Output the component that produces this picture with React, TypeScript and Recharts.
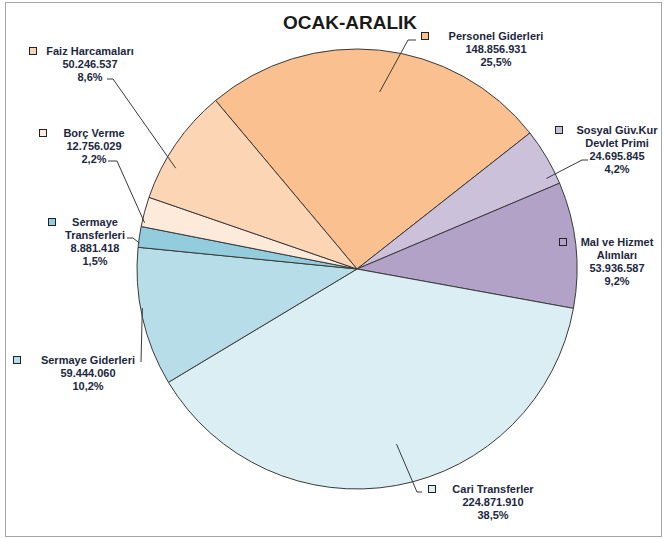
import React from "react";
import { PieChart, Pie, Cell, Sector } from "recharts";

// dilimler, saat yönünde (Personel Giderleri sol üstten başlıyor)
const categories = [
  "Personel Giderleri",
  "Sosyal Güv.Kur Devlet Primi",
  "Mal ve Hizmet Alımları",
  "Cari Transferler",
  "Sermaye Giderleri",
  "Sermaye Transferleri",
  "Borç Verme",
  "Faiz Harcamaları",
];
const amounts = [148856931, 24695845, 53936587, 224871910, 59444060, 8881418, 12756029, 50246537];
const amountLabels = [
  "148.856.931",
  "24.695.845",
  "53.936.587",
  "224.871.910",
  "59.444.060",
  "8.881.418",
  "12.756.029",
  "50.246.537",
];
const percentLabels = ["25,5%", "4,2%", "9,2%", "38,5%", "10,2%", "1,5%", "2,2%", "8,6%"];
const labelLines = [
  ["Personel Giderleri"],
  ["Sosyal Güv.Kur", "Devlet Primi"],
  ["Mal ve Hizmet", "Alımları"],
  ["Cari Transferler"],
  ["Sermaye Giderleri"],
  ["Sermaye", "Transferleri"],
  ["Borç Verme"],
  ["Faiz Harcamaları"],
];

const colors = ["#FAC090", "#CCC1DA", "#B3A2C7", "#DBEEF4", "#B7DEE8", "#93CDDD", "#FDEADA", "#FCD5B5"];

// etiket kutularının yerleri (tx/ty: ilk satır merkezi, mx/my: renk kutusu, line: kılavuz çizgi kırılma noktaları)
const labelLayout = [
  { tx: 496, ty: 36, mx: 425, my: 36, line: [[408, 40], [416, 40]] },
  { tx: 617, ty: 130, mx: 559, my: 130, line: [[582, 160], [588, 160]] },
  { tx: 617, ty: 242, mx: 563, my: 242, line: [] },
  { tx: 493, ty: 489, mx: 432, my: 489, line: [[417, 492], [422, 492]] },
  { tx: 88, ty: 360, mx: 17, my: 360, line: [[141, 362]] },
  { tx: 95, ty: 222, mx: 52, my: 222, line: [[133, 238], [127, 238]] },
  { tx: 94, ty: 133, mx: 43, my: 133, line: [[117, 161], [108, 161]] },
  { tx: 90, ty: 51, mx: 33, my: 51, line: [[113, 79], [107, 79]] },
];

const data = categories.map((name, i) => ({ name, value: amounts[i] }));

const CX = 357;
const CY = 269;
const R = 220;
const SY = 178 / 220; // pasta elips görünümlü
const RAD = Math.PI / 180;
const textColor = "#1c2740";
const FONT = "'Liberation Sans', Arial, sans-serif";

const EllipseSector = (props: any) => (
  <g transform={`translate(0 ${props.cy * (1 - SY)}) scale(1 ${SY})`}>
    <Sector {...props} stroke="#3a3a3a" strokeWidth={1} vectorEffect="non-scaling-stroke" />
  </g>
);

const renderLabel = (props: any) => {
  const { cx, cy, midAngle, outerRadius, index } = props;
  const lay = labelLayout[index];
  const ax = cx + outerRadius * Math.cos(-midAngle * RAD);
  const ay = cy + SY * outerRadius * Math.sin(-midAngle * RAD);
  const lines = [...labelLines[index], amountLabels[index], percentLabels[index]];
  const pts = [[ax, ay], ...lay.line].map((p) => p.join(",")).join(" ");
  return (
    <g key={`lbl-${index}`}>
      {lay.line.length > 0 && <polyline points={pts} fill="none" stroke="#3a3a3a" strokeWidth={1} />}
      <rect x={lay.mx - 3.5} y={lay.my - 3.5} width={7} height={7} fill={colors[index]} stroke="#222" strokeWidth={1} />
      {lines.map((t, k) => (
        <text
          key={k}
          x={lay.tx}
          y={lay.ty + k * 13}
          textAnchor="middle"
          dominantBaseline="central"
          fontSize={11}
          fontWeight="bold"
          fontFamily={FONT}
          fill={textColor}
        >
          {t}
        </text>
      ))}
    </g>
  );
};

export default function App() {
  return (
    <div style={{ position: "absolute", left: 0, top: 0, width: 665, height: 538, background: "#fff" }}>
      <div
        style={{
          position: "absolute",
          left: 5,
          top: 2,
          width: 655,
          height: 533,
          border: "1px solid #a6a6a6",
        }}
      />
      <div style={{ position: "absolute", left: 0, top: 0 }}>
        <PieChart width={665} height={538} margin={{ top: 0, right: 0, bottom: 0, left: 0 }}>
          <text x={350} y={22} textAnchor="middle" dominantBaseline="central" fontSize={19} fontWeight="bold" fontFamily={FONT} fill="#1a1a1a">
            OCAK-ARALIK
          </text>
          <Pie
            data={data}
            dataKey="value"
            nameKey="name"
            cx={CX}
            cy={CY}
            outerRadius={R}
            startAngle={130}
            endAngle={-230}
            stroke="#3a3a3a"
            label={renderLabel}
            labelLine={false}
            inactiveShape={EllipseSector}
            activeShape={EllipseSector}
            isAnimationActive={false}
          >
            {data.map((d, i) => (
              <Cell key={`cell-${i}`} fill={colors[i]} />
            ))}
          </Pie>
        </PieChart>
      </div>
    </div>
  );
}
